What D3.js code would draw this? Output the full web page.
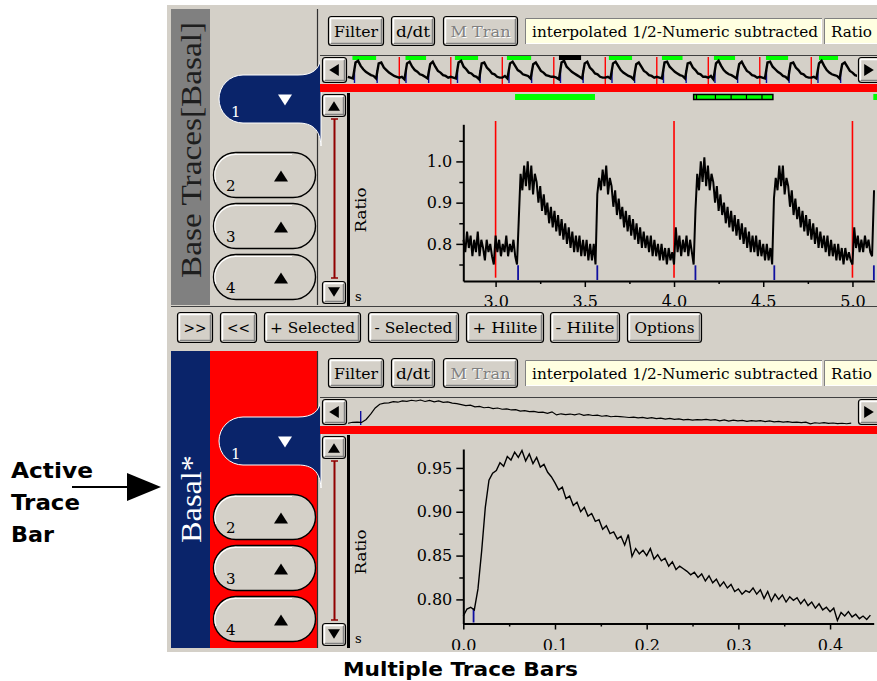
<!DOCTYPE html>
<html><head><meta charset="utf-8">
<script src="https://cdn.jsdelivr.net/npm/d3@7"></script>
<style>
html,body{margin:0;padding:0;background:#fff;}
svg{display:block;}
</style></head><body>
<svg id="c" width="877" height="681"></svg>
<script>
// ---------------- DATA ----------------
// Top trace (Base Traces), sampled every 0.01 s, in segments starting at these times (s)
const topSegStart = [2.82, 3.13, 3.57, 4.12, 4.56, 5.121];
const topStep = 0.01;
const topSeg0 = [0.81,0.78,0.83,0.79,0.82,0.77,0.81,0.78,0.83,0.77,0.81,0.79,0.76,0.81,0.78,0.80,0.77,0.75,
                 0.82,0.78,0.81,0.77,0.80,0.78,0.82,0.77,0.80,0.78,0.81,0.77,0.75];
const topSeg1 = [0.86,0.97,0.93,0.99,0.94,1.00,0.93,0.99,0.92,0.97,
                 0.95,0.90,0.94,0.88,0.92,0.87,0.90,0.85,0.89,0.84,
                 0.88,0.83,0.87,0.82,0.86,0.81,0.85,0.80,0.84,0.79,
                 0.83,0.78,0.82,0.78,0.82,0.77,0.81,0.77,0.81,0.76,
                 0.80,0.76,0.80,0.75];
const topSeg2 = [0.92,0.96,0.93,0.98,0.94,0.99,0.92,0.96,
                 0.94,0.89,0.93,0.87,0.91,0.86,0.89,0.84,0.88,0.83,0.87,0.82,0.86,0.81,0.85,0.80,0.84,0.79,
                 0.83,0.79,0.82,0.78,0.82,0.77,0.81,0.77,0.80,0.76,0.80,0.76,0.79,0.75,0.79,0.76,0.78,
                 0.75,
                 0.84,0.78,0.82,0.77,0.81,0.78,0.82,0.77,0.81,0.78,0.75];
const topSeg3 = [0.88,0.97,0.93,1.00,0.95,1.01,0.94,0.99,0.93,0.97,
                 0.95,0.90,0.94,0.88,0.92,0.87,0.90,0.85,0.89,0.84,
                 0.88,0.83,0.87,0.82,0.86,0.81,0.85,0.80,0.84,0.79,
                 0.83,0.78,0.82,0.78,0.82,0.77,0.81,0.77,0.80,0.76,
                 0.80,0.76,0.79,0.75];
const topSeg4 = [0.91,0.96,0.93,0.99,0.94,0.99,0.92,0.96,
                 0.94,0.89,0.93,0.87,0.91,0.86,0.89,0.84,0.88,0.83,0.87,0.82,0.86,0.81,0.85,0.80,0.84,0.79,
                 0.83,0.79,0.82,0.78,0.82,0.77,0.81,0.77,0.80,0.76,0.80,0.76,0.79,0.75,0.79,0.76,0.78,
                 0.76,0.75,
                 0.84,0.79,0.82,0.78,0.81,0.78,0.82,0.79,0.81,0.78,0.77];
const topSeg5 = [0.93];
const topRedLines = [3, 4, 5];
const topBlueTicks = [3.126, 3.57, 4.12, 4.562, 5.12];
const topGreenBars = [[3.109, 3.557], [5.117, 5.2]];
const topSelBar = [4.110, 4.554];
const topSelDividers = [4.126, 4.232, 4.320, 4.406, 4.493];
const topXTicks = [3.0, 3.5, 4.0, 4.5, 5.0];
const topXMinor = [3.25, 3.75, 4.25, 4.75];
const topYTicks = [0.8, 0.9, 1.0];
const topYMinor = [0.75, 0.85, 0.95, 1.05];

// Bottom trace (Basal*), sampled every 0.004 s from 0
const botStep = 0.004;
const botValues = [
  0.781,0.789,0.791,0.788,0.812,0.855,0.905,0.936,0.944,0.947,
  0.956,0.952,0.963,0.959,0.968,0.962,0.970,0.958,0.966,0.955,
  0.962,0.951,0.954,0.945,0.940,0.933,0.925,0.928,0.915,0.918,
  0.907,0.911,0.900,0.905,0.895,0.898,0.889,0.891,0.880,0.884,
  0.875,0.877,0.869,0.872,0.862,0.874,0.849,0.858,0.852,0.856,
  0.850,0.858,0.846,0.851,0.844,0.847,0.838,0.843,0.834,0.838,
  0.835,0.832,0.828,0.831,0.825,0.829,0.821,0.827,0.819,0.823,
  0.815,0.820,0.813,0.817,0.809,0.812,0.806,0.810,0.808,0.813,
  0.806,0.811,0.801,0.809,0.798,0.806,0.800,0.805,0.797,0.803,
  0.799,0.802,0.795,0.800,0.793,0.797,0.790,0.795,0.788,0.791,
  0.786,0.790,0.776,0.785,0.781,0.786,0.780,0.783,0.778,0.781,
  0.777,0.782];
const botBlueTicks = [0.0112];
const botXTicks = [0.0, 0.1, 0.2, 0.3, 0.4];
const botXMinor = [0.05, 0.15, 0.25, 0.35];
const botYTicks = [0.80, 0.85, 0.90, 0.95];
const botYMinor = [0.825, 0.875, 0.925];

// Overview strip of the whole recording: one row per second, 0.05 s steps
const ovStart = -1, ovStep = 0.05;
const ovRows = [
  [0.80,0.79,0.78,0.97,0.99,0.93,0.89,0.86,0.84,0.82,0.81,0.78,0.96,0.97,0.91,0.88,0.85,0.83,0.81,0.80],
  [0.79,0.80,0.77,0.96,0.98,0.92,0.88,0.86,0.83,0.82,0.80,0.78,0.95,0.98,0.92,0.87,0.85,0.82,0.81,0.79],
  [0.80,0.79,0.78,0.97,0.99,0.92,0.89,0.85,0.84,0.81,0.80,0.77,0.96,0.97,0.91,0.88,0.84,0.83,0.80,0.79],
  [0.79,0.81,0.78,0.96,0.98,0.93,0.88,0.86,0.83,0.82,0.81,0.78,0.95,0.97,0.92,0.87,0.85,0.82,0.81,0.80],
  [0.80,0.79,0.77,0.97,0.99,0.92,0.89,0.86,0.84,0.82,0.80,0.78,0.96,0.98,0.91,0.88,0.84,0.83,0.80,0.79],
  [0.79,0.80,0.78,0.96,0.98,0.93,0.88,0.85,0.83,0.81,0.80,0.77,0.95,0.97,0.92,0.87,0.85,0.82,0.81,0.79],
  [0.80,0.79,0.78,0.97,0.98,0.92,0.89,0.86,0.84,0.82,0.81,0.78,0.96,0.97,0.91,0.88,0.84,0.83,0.80,0.80],
  [0.79,0.81,0.77,0.96,0.99,0.93,0.88,0.85,0.83,0.82,0.80,0.78,0.95,0.98,0.92,0.87,0.85,0.82,0.81,0.79],
  [0.80,0.79,0.78,0.97,0.98,0.92,0.89,0.86,0.84,0.81,0.80,0.77,0.96,0.97,0.91,0.88,0.84,0.83,0.80,0.79],
  [0.79,0.80,0.78,0.96,0.99,0.93,0.88,0.85,0.83,0.82,0.81,0.78,0.95,0.97,0.92,0.87,0.85,0.82,0.81,0.80]];
const ovRedLines = [0,1,2,3,4,5,6,7,8];
const ovRiseTimes = [-0.87,-0.43,0.13,0.57,1.13,1.57,2.13,2.57,3.13,3.57,4.13,4.57,5.13,5.57,6.13,6.57,7.13,7.57,8.13,8.57];
const ovGreen = [[-0.91,-0.45],[0.12,0.52],[1.08,1.53],[2.09,2.56],[4.07,4.52],[5.10,5.50],[6.11,6.52],[7.12,7.55],[8.15,8.52]];
const ovCurrent = [3.10, 3.53];

// UI labels
const toolButtons = ["Filter", "d/dt", "M Tran"];
const fieldTexts = ["interpolated 1/2-Numeric subtracted", "Ratio"];
const rowButtons = [">>", "<<", "+ Selected", "- Selected", "+ Hilite", "- Hilite", "Options"];
const tabNumbers = ["1", "2", "3", "4"];

// ---------------- DRAWING ----------------
const svg = d3.select("#c");
const GRAY = "#d4d0c8", NAVY = "#0a246a", RED = "#ff0000", DARK = "#808080", GREEN = "#00ff00", BLUE = "#1010a0";
const SERIF = "'DejaVu Serif', serif";
const TSERIF = "'Liberation Serif', 'Times New Roman', serif";
const SANS = "'DejaVu Sans', Verdana, sans-serif";

svg.append("rect").attr("x", 167).attr("y", 5).attr("width", 710).attr("height", 647).attr("fill", GRAY);

function raised(g, x, y, w, h) {
  g.append("rect").attr("x", x + 0.5).attr("y", y + 0.5).attr("width", w - 1).attr("height", h - 1)
    .attr("rx", 3).attr("fill", GRAY).attr("stroke", "#000").attr("stroke-width", 1.2);
  g.append("path").attr("d", `M${x + 2.5},${y + h - 3} V${y + 2.5} H${x + w - 3}`)
    .attr("stroke", "#fff").attr("stroke-width", 1.5).attr("fill", "none");
  g.append("path").attr("d", `M${x + 3},${y + h - 2.5} H${x + w - 2.5} V${y + 3}`)
    .attr("stroke", DARK).attr("stroke-width", 1.5).attr("fill", "none");
}
function button(g, x, y, w, h, label, len, disabled) {
  raised(g, x, y, w, h);
  const tx = x + w / 2, ty = y + h / 2 + 5.5;
  if (disabled) {
    g.append("text").attr("x", tx + 1).attr("y", ty + 1).attr("text-anchor", "middle").attr("font-family", SERIF)
      .attr("font-size", 15).attr("fill", "#fff").attr("textLength", len).attr("lengthAdjust", "spacingAndGlyphs").text(label);
  }
  g.append("text").attr("x", tx).attr("y", ty).attr("text-anchor", "middle").attr("font-family", SERIF)
    .attr("font-size", 15).attr("fill", disabled ? DARK : "#000").attr("textLength", len)
    .attr("lengthAdjust", "spacingAndGlyphs").text(label);
}
function field(g, x, y, w, h, label, tx, len) {
  g.append("rect").attr("x", x).attr("y", y).attr("width", w).attr("height", h).attr("fill", "#ffffe1");
  g.append("path").attr("d", `M${x + 0.5},${y + h} V${y + 0.5} H${x + w}`).attr("stroke", DARK).attr("fill", "none");
  g.append("path").attr("d", `M${x + 1},${y + h - 0.5} H${x + w - 0.5} V${y + 1}`).attr("stroke", "#fff").attr("fill", "none");
  g.append("text").attr("x", tx).attr("y", y + h / 2 + 5.5).attr("font-family", SERIF).attr("font-size", 15)
    .attr("fill", "#000").attr("textLength", len).attr("lengthAdjust", "spacingAndGlyphs").text(label);
}
function triangle(g, cx, cy, dir, size, color) {
  const s = size;
  let pts;
  if (dir === "up") pts = [[cx - s, cy + s * 0.8], [cx + s, cy + s * 0.8], [cx, cy - s * 0.8]];
  if (dir === "down") pts = [[cx - s, cy - s * 0.8], [cx + s, cy - s * 0.8], [cx, cy + s * 0.8]];
  if (dir === "left") pts = [[cx + s * 0.8, cy - s], [cx + s * 0.8, cy + s], [cx - s * 0.8, cy]];
  if (dir === "right") pts = [[cx - s * 0.8, cy - s], [cx - s * 0.8, cy + s], [cx + s * 0.8, cy]];
  g.append("polygon").attr("points", pts.map(p => p.join(",")).join(" ")).attr("fill", color);
}

function drawPanel(dy, cfg) {
  const g = svg.append("g").attr("transform", `translate(0,${dy})`);
  const H = cfg.barH;
  g.append("rect").attr("x", 171).attr("y", 9).attr("width", 39).attr("height", H).attr("fill", cfg.barColor);
  g.append("text").attr("transform", `translate(201,${cfg.labelY}) rotate(-90)`).attr("text-anchor", "middle")
    .attr("font-family", TSERIF).attr("font-size", 29).attr("fill", cfg.labelColor)
    .attr("textLength", cfg.labelLen).attr("lengthAdjust", "spacingAndGlyphs").text(cfg.label);
  g.append("rect").attr("x", 210).attr("y", 9).attr("width", 107).attr("height", H).attr("fill", cfg.tabBg);
  g.append("line").attr("x1", 317.5).attr("x2", 317.5).attr("y1", 9).attr("y2", 9 + H).attr("stroke", "#303030").attr("stroke-width", 1.2);
  g.append("path").attr("d", "M321,56 C320,70 312,75 298,75 L243,75 A24,24 0 0 0 243,123 L298,123 C312,123 320,129 321,146 Z")
    .attr("fill", NAVY).attr("stroke", "#fff").attr("stroke-width", 1);
  g.append("text").attr("x", 231).attr("y", 117).attr("font-family", SERIF).attr("font-size", 15).attr("fill", "#fff").text(tabNumbers[0]);
  triangle(g, 285, 100, "down", 7, "#fff");
  [152, 203, 254].forEach((ty, i) => {
    g.append("rect").attr("x", 213.5).attr("y", ty + 0.5).attr("width", 102).attr("height", 45).attr("rx", 22.5)
      .attr("fill", GRAY).attr("stroke", "#000").attr("stroke-width", 1.4);
    g.append("path").attr("d", `M${216},${ty + 30} A21,21 0 0 1 ${237},${ty + 2.5} L${292},${ty + 2.5}`)
      .attr("stroke", "#fff").attr("stroke-width", 1.2).attr("fill", "none");
    g.append("text").attr("x", 226).attr("y", ty + 39).attr("font-family", SERIF).attr("font-size", 15).attr("fill", "#000").text(tabNumbers[i + 1]);
    triangle(g, 281, ty + 24, "up", 7, "#000");
  });
  button(g, 328, 16, 56, 30, toolButtons[0], 44, false);
  button(g, 391, 16, 44, 30, toolButtons[1], 34, false);
  button(g, 443, 16, 75, 30, toolButtons[2], 60, true);
  field(g, 525, 18, 297, 26, fieldTexts[0], 532, 286);
  field(g, 824, 18, 60, 26, fieldTexts[1], 831, 41);
  g.append("rect").attr("x", 320).attr("y", 55).attr("width", 557).attr("height", 29).attr("fill", GRAY);
  g.append("line").attr("x1", 320).attr("x2", 877).attr("y1", 55.5).attr("y2", 55.5).attr("stroke", "#404040");
  raised(g, 322, 57, 25, 26);
  triangle(g, 334, 70, "left", 6, "#000");
  raised(g, 858, 57, 24, 26);
  triangle(g, 869, 70, "right", 6, "#000");
  g.append("rect").attr("x", 320).attr("y", 84).attr("width", 557).attr("height", 8).attr("fill", RED);
  raised(g, 322, 94, 24, 23);
  triangle(g, 334, 106, "up", 6, "#000");
  raised(g, 322, 281, 24, 23);
  triangle(g, 334, 292, "down", 6, "#000");
  g.append("line").attr("x1", 334.5).attr("x2", 334.5).attr("y1", 119).attr("y2", 278).attr("stroke", "#900000").attr("stroke-width", 2);
  g.append("line").attr("x1", 331).attr("x2", 338).attr("y1", 119).attr("y2", 119).attr("stroke", "#900000").attr("stroke-width", 1.5);
  g.append("line").attr("x1", 331).attr("x2", 338).attr("y1", 278).attr("y2", 278).attr("stroke", "#900000").attr("stroke-width", 1.5);
  g.append("rect").attr("x", 347).attr("y", 93).attr("width", 3).attr("height", 213).attr("fill", "#000");
  g.append("text").attr("transform", `translate(366,210) rotate(-90)`).attr("text-anchor", "middle")
    .attr("font-family", SERIF).attr("font-size", 15).attr("fill", "#000").attr("textLength", 45)
    .attr("lengthAdjust", "spacingAndGlyphs").text("Ratio");
  g.append("text").attr("x", 355).attr("y", 301).attr("font-family", SERIF).attr("font-size", 13).attr("fill", "#000").text("s");
  return g;
}

drawPanel(0, { barH: 296, barColor: DARK, label: "Base Traces[Basal]", labelColor: "#1e1e1e", labelY: 150, labelLen: 256, tabBg: GRAY });
svg.append("line").attr("x1", 171).attr("x2", 877).attr("y1", 306.5).attr("y2", 306.5).attr("stroke", "#404040");
drawPanel(342, { barH: 297, barColor: NAVY, label: "Basal*", labelColor: "#fff", labelY: 157, labelLen: 88, tabBg: RED });

const rowX = [177, 220, 264, 368, 466, 550, 627];
const rowW = [36, 37, 97, 91, 78, 70, 75];
const rowLen = [23, 23, 85, 78, 65, 59, 60];
const rowG = svg.append("g");
rowButtons.forEach((b, i) => button(rowG, rowX[i], 312, rowW[i], 31, b, rowLen[i], false));

const defs = svg.append("defs");
defs.append("clipPath").attr("id", "topClip").append("rect").attr("x", 350).attr("y", 93).attr("width", 527).attr("height", 213);
defs.append("clipPath").attr("id", "botClip").append("rect").attr("x", 350).attr("y", 435).attr("width", 527).attr("height", 215);
defs.append("clipPath").attr("id", "ovTop").append("rect").attr("x", 347).attr("y", 55).attr("width", 510).attr("height", 29);
defs.append("clipPath").attr("id", "ovBot").append("rect").attr("x", 347).attr("y", 397).attr("width", 510).attr("height", 29);

function styleAxis(g, size) {
  g.attr("font-family", SERIF).attr("font-size", size);
  g.select(".domain").attr("stroke", "#000").attr("stroke-width", 2);
  g.selectAll(".tick line").attr("stroke", "#000").attr("stroke-width", 1.5);
  g.selectAll(".tick text").attr("fill", "#000");
}

// ---- top main plot ----
const topX = d3.scaleLinear().domain([2.819, 5.123]).range([463.3, 874.4]);
const topY = d3.scaleLinear().domain([0.71, 1.09]).range([281, 124.3]);
const topData = [topSeg0, topSeg1, topSeg2, topSeg3, topSeg4, topSeg5]
  .flatMap((seg, i) => seg.map((v, j) => ({ t: topSegStart[i] + j * topStep, v })));
const tp = svg.append("g").attr("clip-path", "url(#topClip)");
tp.selectAll(".gb").data(topGreenBars).join("rect").attr("x", d => topX(d[0])).attr("y", 94)
  .attr("width", d => topX(d[1]) - topX(d[0])).attr("height", 6).attr("fill", GREEN);
tp.append("rect").attr("x", topX(topSelBar[0])).attr("y", 94.5).attr("width", topX(topSelBar[1]) - topX(topSelBar[0]))
  .attr("height", 5).attr("fill", GREEN).attr("stroke", "#000").attr("stroke-width", 1.5);
tp.selectAll(".sd").data(topSelDividers).join("line").attr("x1", d => topX(d)).attr("x2", d => topX(d))
  .attr("y1", 94).attr("y2", 100).attr("stroke", "#000").attr("stroke-width", 1.2);
const txa = tp.append("g").attr("transform", "translate(0,281)")
  .call(d3.axisBottom(topX).tickValues(topXTicks).tickSize(6).tickSizeOuter(0).tickPadding(9).tickFormat(d3.format(".1f")));
styleAxis(txa, 16);
const txm = tp.append("g").attr("transform", "translate(0,281)").call(d3.axisBottom(topX).tickValues(topXMinor).tickSize(3).tickFormat(""));
txm.select(".domain").remove(); txm.selectAll("line").attr("stroke", "#000").attr("stroke-width", 1.5);
const tya = tp.append("g").attr("transform", "translate(463.3,0)")
  .call(d3.axisLeft(topY).tickValues(topYTicks).tickSize(7).tickSizeOuter(0).tickPadding(4).tickFormat(d3.format(".1f")));
styleAxis(tya, 16);
const tym = tp.append("g").attr("transform", "translate(463.3,0)").call(d3.axisLeft(topY).tickValues(topYMinor).tickSize(4).tickFormat(""));
tym.select(".domain").remove(); tym.selectAll("line").attr("stroke", "#000").attr("stroke-width", 1.5);
tp.selectAll(".rl").data(topRedLines).join("line").attr("x1", d => topX(d)).attr("x2", d => topX(d))
  .attr("y1", topY(1.098)).attr("y2", topY(0.718)).attr("stroke", RED).attr("stroke-width", 1.6);
tp.selectAll(".bt").data(topBlueTicks).join("line").attr("x1", d => topX(d)).attr("x2", d => topX(d))
  .attr("y1", topY(0.748)).attr("y2", 280).attr("stroke", BLUE).attr("stroke-width", 1.8);
tp.append("path").datum(topData).attr("fill", "none").attr("stroke", "#000").attr("stroke-width", 2)
  .attr("d", d3.line().x(d => topX(d.t)).y(d => topY(d.v)));

// ---- bottom main plot ----
const botX = d3.scaleLinear().domain([0, 0.4476]).range([463.3, 873.7]);
const botY = d3.scaleLinear().domain([0.7725, 0.9716]).range([623.5, 449]);
const botData = botValues.map((v, i) => ({ t: i * botStep, v }));
const bp = svg.append("g").attr("clip-path", "url(#botClip)");
const bxa = bp.append("g").attr("transform", "translate(0,623.5)")
  .call(d3.axisBottom(botX).tickValues(botXTicks).tickSize(6).tickSizeOuter(0).tickPadding(10).tickFormat(d3.format(".1f")));
styleAxis(bxa, 16);
const bxm = bp.append("g").attr("transform", "translate(0,623.5)").call(d3.axisBottom(botX).tickValues(botXMinor).tickSize(3).tickFormat(""));
bxm.select(".domain").remove(); bxm.selectAll("line").attr("stroke", "#000").attr("stroke-width", 1.5);
const bya = bp.append("g").attr("transform", "translate(463.3,0)")
  .call(d3.axisLeft(botY).tickValues(botYTicks).tickSize(7).tickSizeOuter(0).tickPadding(4).tickFormat(d3.format(".2f")));
styleAxis(bya, 16);
const bym = bp.append("g").attr("transform", "translate(463.3,0)").call(d3.axisLeft(botY).tickValues(botYMinor).tickSize(4).tickFormat(""));
bym.select(".domain").remove(); bym.selectAll("line").attr("stroke", "#000").attr("stroke-width", 1.5);
bp.selectAll(".bb").data(botBlueTicks).join("line").attr("x1", d => botX(d)).attr("x2", d => botX(d))
  .attr("y1", botY(0.7895)).attr("y2", 622.5).attr("stroke", BLUE).attr("stroke-width", 1.8);
bp.append("path").datum(botData).attr("fill", "none").attr("stroke", "#000").attr("stroke-width", 1.4)
  .attr("d", d3.line().x(d => botX(d.t)).y(d => botY(d.v)));

// ---- top overview ----
const ovX = d3.scaleLinear().domain([-1, 8.95]).range([347.8, 860.2]);
const ovY = d3.scaleLinear().domain([0.75, 1.0]).range([81, 60]);
const ovData = ovRows.flatMap((row, k) => row.map((v, j) => ({ t: ovStart + k + j * ovStep, v })));
const ot = svg.append("g").attr("clip-path", "url(#ovTop)");
ot.selectAll(".og").data(ovGreen).join("rect").attr("x", d => ovX(d[0])).attr("y", 56)
  .attr("width", d => ovX(d[1]) - ovX(d[0])).attr("height", 4).attr("fill", GREEN);
ot.append("rect").attr("x", ovX(ovCurrent[0])).attr("y", 55).attr("width", ovX(ovCurrent[1]) - ovX(ovCurrent[0]))
  .attr("height", 5).attr("fill", "#000");
ot.selectAll(".orl").data(ovRedLines).join("line").attr("x1", d => ovX(d)).attr("x2", d => ovX(d))
  .attr("y1", 57).attr("y2", 84).attr("stroke", RED).attr("stroke-width", 1.4);
ot.selectAll(".obl").data(ovRiseTimes).join("line").attr("x1", d => ovX(d)).attr("x2", d => ovX(d))
  .attr("y1", 70).attr("y2", 83).attr("stroke", BLUE).attr("stroke-width", 1.4);
ot.append("path").datum(ovData).attr("fill", "none").attr("stroke", "#000").attr("stroke-width", 2.4)
  .attr("d", d3.line().x(d => ovX(d.t)).y(d => ovY(d.v)));

// ---- bottom overview ----
const bovX = d3.scaleLinear().domain([0, 0.45]).range([348, 858]);
const bovY = d3.scaleLinear().domain([0.775, 0.97]).range([424, 400]);
const ob = svg.append("g").attr("clip-path", "url(#ovBot)");
ob.selectAll(".obb").data(botBlueTicks).join("line").attr("x1", d => bovX(d)).attr("x2", d => bovX(d))
  .attr("y1", 411).attr("y2", 425).attr("stroke", BLUE).attr("stroke-width", 1.4);
ob.append("path").datum(botData).attr("fill", "none").attr("stroke", "#000").attr("stroke-width", 1.2)
  .attr("d", d3.line().x(d => bovX(d.t)).y(d => bovY(d.v)));

// ---- annotations ----
const ann = svg.append("g").attr("font-family", SANS).attr("font-weight", "bold").attr("font-size", 22).attr("fill", "#000");
ann.append("text").attr("x", 11).attr("y", 478).attr("textLength", 82).attr("lengthAdjust", "spacingAndGlyphs").text("Active");
ann.append("text").attr("x", 11).attr("y", 510).attr("textLength", 69).attr("lengthAdjust", "spacingAndGlyphs").text("Trace");
ann.append("text").attr("x", 11).attr("y", 542).attr("textLength", 43).attr("lengthAdjust", "spacingAndGlyphs").text("Bar");
svg.append("line").attr("x1", 72).attr("x2", 130).attr("y1", 487).attr("y2", 487).attr("stroke", "#000").attr("stroke-width", 2);
svg.append("polygon").attr("points", "127,473 161,487 127,501").attr("fill", "#000");
svg.append("text").attr("x", 460.5).attr("y", 676).attr("text-anchor", "middle").attr("font-family", SANS)
  .attr("font-weight", "bold").attr("font-size", 20).attr("fill", "#000").attr("textLength", 235)
  .attr("lengthAdjust", "spacingAndGlyphs").text("Multiple Trace Bars");
</script></body></html>
